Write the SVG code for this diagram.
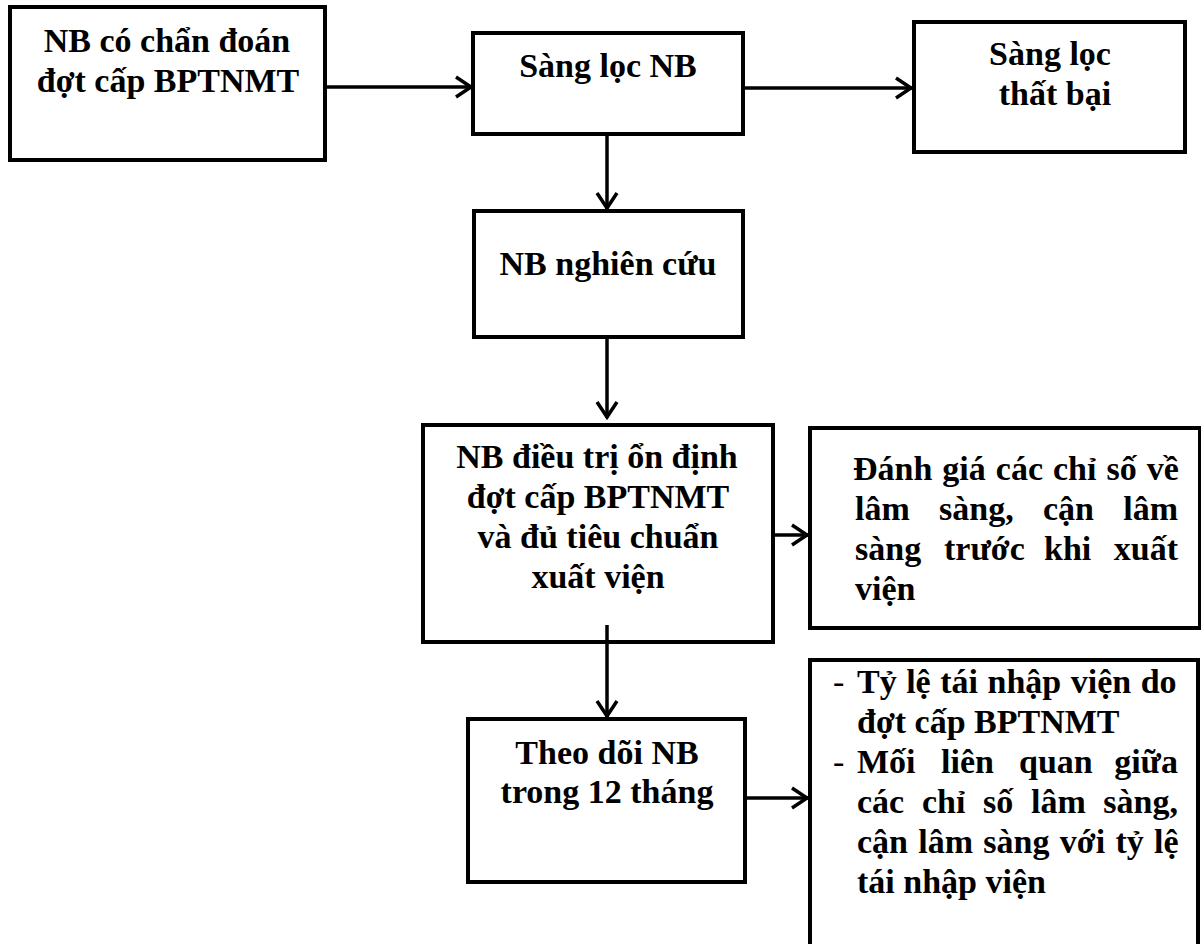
<svg xmlns="http://www.w3.org/2000/svg" width="1201" height="944" viewBox="0 0 1201 944">
<style>
.box{fill:#fff;stroke:#000;stroke-width:4}
.t{font-family:"Liberation Serif","Times New Roman",serif;font-weight:bold;font-size:34px;fill:#000}
.c{text-anchor:middle}
.e{text-anchor:end}
.dash{font-family:"Liberation Serif","Times New Roman",serif;font-size:34px;fill:#000}
.ln{fill:none;stroke:#000;stroke-width:3.5}
</style>
<defs>
<marker id="arr" markerUnits="userSpaceOnUse" viewBox="0 0 24 24" markerWidth="24" markerHeight="24" refX="20" refY="12" orient="auto">
<path d="M4,2 L19,12 L4,22" fill="none" stroke="#000" stroke-width="3.5"/>
</marker>
</defs>
<rect width="1201" height="944" fill="#fff"/>
<g id="n1">
<rect class="box" x="10" y="7" width="315" height="153"/>
<text class="t c" x="167" y="52">NB có chẩn đoán</text>
<text class="t c" x="168" y="92">đợt cấp BPTNMT</text>
</g>
<g id="n2">
<rect class="box" x="473" y="33" width="270" height="101"/>
<text class="t c" x="608" y="77">Sàng lọc NB</text>
</g>
<g id="n3">
<rect class="box" x="914" y="22" width="271" height="130"/>
<text class="t c" x="1050" y="65">Sàng lọc</text>
<text class="t c" x="1055" y="105">thất bại</text>
</g>
<g id="n4">
<rect class="box" x="474" y="211" width="269" height="126"/>
<text class="t c" x="608" y="275">NB nghiên cứu</text>
</g>
<g id="n5">
<rect class="box" x="423" y="425" width="350" height="217"/>
<text class="t c" x="597" y="468">NB điều trị ổn định</text>
<text class="t c" x="598" y="508">đợt cấp BPTNMT</text>
<text class="t c" x="598" y="548">và đủ tiêu chuẩn</text>
<text class="t c" x="598" y="588">xuất viện</text>
</g>
<g id="n6">
<rect class="box" x="810" y="428" width="390" height="200"/>
<text class="t" x="853" y="480" word-spacing="1.5">Đánh giá các chỉ số về</text>
<text class="t" x="855" y="520">lâm</text>
<text class="t" x="939" y="520">sàng,</text>
<text class="t" x="1043" y="520">cận</text>
<text class="t e" x="1178" y="520">lâm</text>
<text class="t" x="855" y="560">sàng</text>
<text class="t" x="944" y="560">trước</text>
<text class="t" x="1044" y="560">khi</text>
<text class="t e" x="1178" y="560">xuất</text>
<text class="t" x="855" y="600">viện</text>
</g>
<g id="n7">
<rect class="box" x="468" y="719" width="277" height="163"/>
<text class="t c" x="607" y="764">Theo dõi NB</text>
<text class="t c" x="607" y="803">trong 12 tháng</text>
</g>
<g id="n8">
<rect class="box" x="810" y="660" width="388" height="300"/>
<text class="dash" x="833" y="693">-</text>
<text class="t" x="857" y="693" word-spacing="1">Tỷ lệ tái nhập viện do</text>
<text class="t" x="857" y="733">đợt cấp BPTNMT</text>
<text class="dash" x="833" y="773">-</text>
<text class="t" x="857" y="773">Mối</text>
<text class="t" x="941" y="773">liên</text>
<text class="t" x="1019" y="773">quan</text>
<text class="t e" x="1178" y="773">giữa</text>
<text class="t" x="857" y="813">các</text>
<text class="t" x="922" y="813">chỉ</text>
<text class="t" x="983" y="813">số</text>
<text class="t" x="1031" y="813">lâm</text>
<text class="t e" x="1178" y="813">sàng,</text>
<text class="t" x="857" y="853" word-spacing="1.8">cận lâm sàng với tỷ lệ</text>
<text class="t" x="857" y="893">tái nhập viện</text>
</g>
<g id="connectors">
<path class="ln" d="M325,87 H472" marker-end="url(#arr)"/>
<path class="ln" d="M743,88 H912" marker-end="url(#arr)"/>
<path class="ln" d="M607,134 V209" marker-end="url(#arr)"/>
<path class="ln" d="M607,337 V418" marker-end="url(#arr)"/>
<path class="ln" d="M773,535 H808" marker-end="url(#arr)"/>
<path class="ln" d="M607,625 V717" marker-end="url(#arr)"/>
<path class="ln" d="M745,798 H808" marker-end="url(#arr)"/>
</g>
</svg>
